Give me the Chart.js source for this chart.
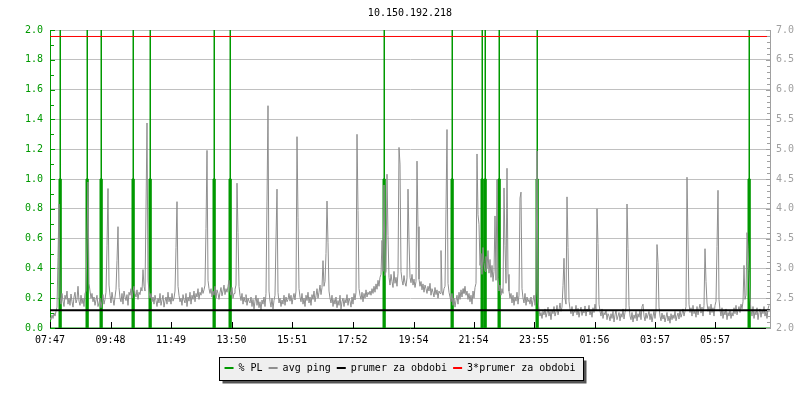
<!DOCTYPE html>
<html><head><meta charset="utf-8">
<script src="https://cdn.jsdelivr.net/npm/chart.js@4/dist/chart.umd.min.js"></script>
<style>html,body{margin:0;padding:0;background:#fff}#wrap{width:800px;height:400px}</style>
</head><body><div id="wrap"><canvas id="c" width="800" height="400"></canvas></div>
<script>
const chartTitle = '10.150.192.218';
const seriesNames = ['% PL', 'avg ping', 'prumer za obdobi', '3*prumer za obdobi'];
const xTickLabels = ['07:47','09:48','11:49','13:50','15:51','17:52','19:54','21:54','23:55','01:56','03:57','05:57'];
const xTickMinutes = [0,121,242,363,484,605,727,847,968,1089,1210,1330];
const periodMinutes = 1440;
const sampleStepMin = 2;
// avg ping in ms, one sample every 2 minutes starting 07:47 (rows of 80 minutes)
const avgPing = [
2.18,2.14,2.22,2.16,2.25,2.20,2.28,2.35,3.18,4.08,2.52,2.40,2.58,2.45,2.36,2.55,2.48,2.62,2.40,2.50,2.38,2.57,2.44,2.35,2.52,2.60,2.42,2.48,2.70,2.45,2.38,2.55,2.41,2.50,2.36,2.58,2.62,3.48,4.45,2.75,
2.62,2.50,2.58,2.44,2.52,2.38,2.47,2.55,2.36,2.42,2.50,2.34,2.45,2.56,2.40,2.48,2.60,3.38,4.34,2.72,2.55,2.42,2.60,2.48,2.38,2.52,2.65,3.13,3.70,2.68,2.50,2.44,2.58,2.40,2.62,2.52,2.46,2.56,2.38,2.60,
2.55,2.66,2.50,2.62,2.70,2.58,2.52,2.64,2.48,2.60,2.56,2.68,2.62,2.98,2.70,2.62,4.00,5.44,2.80,2.62,2.50,2.58,2.44,2.52,2.40,2.55,2.46,2.36,2.50,2.42,2.58,2.38,2.47,2.55,2.35,2.45,2.52,2.40,2.60,2.44,
2.52,2.40,2.58,2.45,2.50,2.62,3.35,4.12,2.70,2.55,2.44,2.50,2.38,2.56,2.47,2.42,2.58,2.36,2.52,2.45,2.60,2.40,2.55,2.48,2.62,2.44,2.58,2.52,2.66,2.48,2.60,2.55,2.68,2.58,2.64,2.72,3.67,4.98,2.80,2.66,
2.58,2.66,2.52,2.62,2.55,2.70,2.50,2.64,2.58,2.48,2.60,2.68,2.54,2.62,2.72,2.56,2.66,2.60,2.70,2.80,2.62,2.55,2.68,2.50,2.58,2.65,2.72,4.43,3.60,2.70,2.55,2.46,2.58,2.40,2.52,2.44,2.56,2.38,2.50,2.45,
2.42,2.52,2.36,2.48,2.32,2.45,2.55,2.38,2.50,2.34,2.44,2.30,2.47,2.40,2.52,2.36,2.58,4.13,5.73,2.62,2.45,2.35,2.50,2.32,2.46,2.55,3.50,4.33,2.60,2.42,2.50,2.36,2.47,2.40,2.55,2.38,2.52,2.44,2.48,2.58,
2.45,2.55,2.40,2.50,2.58,2.47,2.62,5.21,3.85,2.66,2.52,2.44,2.58,2.40,2.50,2.36,2.55,2.46,2.60,2.42,2.52,2.38,2.56,2.48,2.62,2.44,2.54,2.66,2.50,2.60,2.72,2.56,2.68,3.13,2.70,2.78,3.25,4.13,3.43,2.62,
2.50,2.42,2.55,2.36,2.48,2.40,2.52,2.34,2.46,2.38,2.55,2.32,2.44,2.50,2.36,2.48,2.42,2.56,2.38,2.50,2.45,2.35,2.52,2.40,2.58,2.47,2.60,5.25,3.97,2.66,2.55,2.48,2.60,2.44,2.58,2.50,2.64,2.52,2.60,2.56,
2.62,2.55,2.66,2.58,2.70,2.60,2.74,2.65,2.80,2.70,2.85,2.90,3.47,2.95,4.40,2.88,2.95,4.58,3.55,2.85,2.72,2.90,2.78,2.68,2.95,2.75,2.85,2.70,2.92,5.03,4.75,2.95,2.80,2.72,2.88,2.76,2.70,2.84,4.33,3.48,
2.85,2.76,2.90,2.72,2.82,2.68,2.78,4.80,3.70,2.82,2.70,2.78,2.64,2.74,2.60,2.72,2.66,2.58,2.70,2.62,2.75,2.55,2.66,2.60,2.52,2.68,2.56,2.64,2.50,2.62,2.58,3.30,2.62,2.55,2.66,2.70,3.99,5.33,2.75,2.60,
2.52,2.44,2.58,2.38,2.50,2.35,2.46,2.55,2.40,2.60,2.48,2.64,2.52,2.66,2.58,2.70,2.55,2.62,2.48,2.58,2.44,2.55,2.40,2.62,2.50,2.68,2.75,4.92,3.90,3.74,3.05,3.25,2.90,3.35,3.10,2.95,3.20,3.00,3.30,2.92,
3.15,2.85,3.05,2.78,2.95,3.88,2.80,4.49,2.85,2.62,2.72,2.55,2.66,2.58,4.35,3.38,2.75,4.68,2.90,2.62,2.50,2.58,2.42,2.55,2.38,2.52,2.45,2.60,2.40,2.55,4.18,4.28,2.66,2.50,2.42,2.58,2.38,2.52,2.44,2.48,
2.40,2.52,2.36,2.46,2.55,2.38,2.60,4.97,2.45,2.30,2.20,2.26,2.16,2.28,2.22,2.32,2.18,2.25,2.35,2.20,2.28,2.14,2.30,2.24,2.36,2.20,2.27,2.38,2.22,2.30,2.42,2.28,2.35,2.71,3.17,2.50,2.40,4.20,3.35,2.45,
2.32,2.24,2.36,2.20,2.30,2.26,2.38,2.22,2.33,2.18,2.28,2.35,2.21,2.30,2.25,2.37,2.20,2.32,2.27,2.38,2.22,2.30,2.18,2.34,2.26,2.40,2.30,4.00,3.42,2.40,2.28,2.20,2.32,2.16,2.26,2.22,2.30,2.14,2.24,2.20,
2.12,2.24,2.16,2.28,2.10,2.22,2.30,2.14,2.20,2.26,2.12,2.24,2.18,2.32,2.15,2.26,2.34,4.08,3.33,2.38,2.20,2.14,2.26,2.10,2.22,2.16,2.28,2.12,2.24,2.18,2.30,2.14,2.36,2.40,2.20,2.12,2.25,2.16,2.22,2.28,
2.14,2.24,2.10,2.20,2.28,2.16,2.30,3.40,3.10,2.35,2.20,2.12,2.25,2.15,2.22,2.10,2.18,2.26,2.12,2.20,2.08,2.24,2.14,2.22,2.16,2.28,2.12,2.20,2.25,2.15,2.30,2.18,2.24,2.32,2.20,2.28,2.36,4.53,3.46,2.40,
2.26,2.34,2.20,2.38,2.24,2.30,2.18,2.36,2.22,2.32,2.40,2.25,2.35,2.20,2.38,3.33,2.78,2.42,2.28,2.36,2.22,2.40,2.26,2.34,2.20,2.38,2.45,3.37,4.31,2.48,2.30,2.20,2.34,2.16,2.28,2.22,2.32,2.14,2.26,2.20,
2.30,2.16,2.26,2.20,2.34,2.24,2.38,2.22,2.30,2.36,2.26,2.40,2.32,2.44,3.05,2.48,2.55,3.60,3.35,2.95,2.50,2.30,2.20,2.36,2.16,2.28,2.22,2.34,2.14,2.26,2.32,2.18,2.30,2.24,2.36,2.20,2.28,2.16,2.32,2.38
];
// packet loss events (minutes after 07:47), peak % (clipped above 2) and neighbouring %
const plTimes = [20,74,102,166,200,328,360,668,804,864,870,898,974,1398];
const plPeak  = [5,5,5,5,5,5,5,5,5,5,5,5,5,5];
const plTail  = [1,1,1,1,1,1,1,1,1,1,1,1,1,1];
const periodAvgMs = 2.297;

const mono = "'DejaVu Sans Mono', monospace";
const GREEN = '#009900', GREY = '#8e8e8e', RGREY = '#a0a0a0';

const pingPoints = avgPing.map((v, i) => ({x: i * sampleStepMin, y: v}));
const plPoints = [{x: 0, y: 0}];
plTimes.forEach((t, k) => {
  plPoints.push({x: t - 2, y: plTail[k]}, {x: t, y: plPeak[k]}, {x: t + 1, y: plTail[k]}, {x: t + 2.5, y: 0});
});
plPoints.push({x: periodMinutes, y: 0});

const legendBox = {
  id: 'legendBox',
  beforeDraw(chart) {
    const lg = chart.legend; if (!lg || !lg.legendHitBoxes || !lg.legendHitBoxes.length) return;
    let l = Infinity, r = -Infinity, t = Infinity, b = -Infinity;
    lg.legendHitBoxes.forEach(h => { l = Math.min(l, h.left); r = Math.max(r, h.left + h.width); t = Math.min(t, h.top); b = Math.max(b, h.top + h.height); });
    const cy = (t + b) / 2;
    const L = Math.round(l - 5.5) + 0.5, R = Math.round(r + 8) + 0.5, T = Math.round(cy - 11.5) + 0.5, B = Math.round(cy + 11.5) + 0.5;
    const ctx = chart.ctx; ctx.save();
    ctx.fillStyle = '#555'; ctx.fillRect(L + 3, T + 3, R - L, B - T);
    ctx.fillStyle = '#efefef'; ctx.fillRect(L, T, R - L, B - T);
    ctx.strokeStyle = '#000'; ctx.lineWidth = 1; ctx.strokeRect(L, T, R - L, B - T);
    ctx.restore();
  }
};
const axisTicks = {
  id: 'axisTicks',
  afterDraw(chart) {
    const {ctx, chartArea: a, scales} = chart; ctx.save(); ctx.lineWidth = 1;
    ctx.strokeStyle = GREEN; ctx.beginPath();
    for (let k = 0; k <= 20; k++) { const y = Math.round(scales.yL.getPixelForValue(k / 10)) + 0.5; ctx.moveTo(a.left, y); ctx.lineTo(a.left + (k % 2 === 0 ? 5 : 4), y); }
    ctx.stroke();
    ctx.strokeStyle = RGREY; ctx.beginPath();
    for (let k = 0; k <= 50; k++) { const y = Math.round(scales.yR.getPixelForValue(2 + k / 10)) + 0.5; ctx.moveTo(a.right, y); ctx.lineTo(a.right - (k % 5 === 0 ? 4 : 3), y); }
    ctx.stroke();
    ctx.strokeStyle = '#000'; ctx.beginPath();
    xTickMinutes.forEach(t => { const x = Math.round(scales.x.getPixelForValue(t)) + 0.5; ctx.moveTo(x, a.bottom); ctx.lineTo(x, a.bottom - 6); });
    ctx.stroke();
    ctx.restore();
  }
};

new Chart(document.getElementById('c'), {
  type: 'line',
  data: { datasets: [
    { label: seriesNames[3], data: [{x: 0, y: 3 * periodAvgMs}, {x: periodMinutes, y: 3 * periodAvgMs}], yAxisID: 'yR', borderColor: '#ff0000', backgroundColor: '#ff0000', borderWidth: 1, pointRadius: 0 },
    { label: seriesNames[2], data: [{x: 0, y: periodAvgMs}, {x: periodMinutes, y: periodAvgMs}], yAxisID: 'yR', borderColor: '#000000', backgroundColor: '#000000', borderWidth: 2, pointRadius: 0 },
    { label: seriesNames[1], data: pingPoints, yAxisID: 'yR', borderColor: GREY, backgroundColor: GREY, borderWidth: 1, pointRadius: 0, tension: 0 },
    { label: seriesNames[0], data: plPoints, yAxisID: 'yL', borderColor: GREEN, backgroundColor: GREEN, borderWidth: 1, pointRadius: 0, stepped: true, fill: 'origin' }
  ]},
  options: {
    responsive: false, animation: false, devicePixelRatio: 1,
    layout: { padding: { left: 0, right: 0, top: 0, bottom: 17 } },
    plugins: {
      title: { display: true, text: chartTitle, fullSize: false, color: '#000', font: {family: mono, size: 10, weight: 'normal'}, padding: {top: 7.5, bottom: 10.5} },
      legend: { position: 'bottom', reverse: true, labels: { boxWidth: 9, boxHeight: 2, padding: 6, color: '#000', font: {family: mono, size: 10},
        generateLabels(chart) {
          const items = Chart.defaults.plugins.legend.labels.generateLabels(chart);
          items.forEach(it => { const ds = chart.data.datasets[it.datasetIndex]; it.fillStyle = ds.borderColor; it.strokeStyle = ds.borderColor; it.lineWidth = 0; });
          return items;
        } } },
      tooltip: { enabled: false }
    },
    scales: {
      x: { type: 'linear', position: 'bottom', min: 0, max: periodMinutes,
        afterBuildTicks(s) { s.ticks = xTickMinutes.map(v => ({value: v})); },
        afterFit(s) { s.height = 29; },
        ticks: { autoSkip: false, maxRotation: 0, padding: 6, color: '#000', font: {family: mono, size: 10},
          callback: (v, i) => xTickLabels[i] },
        grid: { display: false, drawTicks: false }, border: { display: true, color: '#000', width: 1 } },
      yL: { type: 'linear', position: 'left', min: 0, max: 2,
        afterFit(s) { s.width = 50; },
        ticks: { stepSize: 0.2, padding: 7, color: GREEN, font: {family: mono, size: 10}, callback: v => Number(v).toFixed(1) },
        grid: { drawTicks: false, color: c => (c.tick && c.tick.value === 0) ? 'rgba(0,0,0,0)' : '#c0c0c0' },
        border: { color: GREEN, width: 1 } },
      yR: { type: 'linear', position: 'right', min: 2, max: 7,
        afterFit(s) { s.width = 30; },
        ticks: { stepSize: 0.5, padding: 6, color: RGREY, font: {family: mono, size: 10}, callback: v => Number(v).toFixed(1) },
        grid: { drawOnChartArea: false, drawTicks: false },
        border: { color: RGREY, width: 1 } }
    }
  },
  plugins: [legendBox, axisTicks]
});
</script></body></html>
